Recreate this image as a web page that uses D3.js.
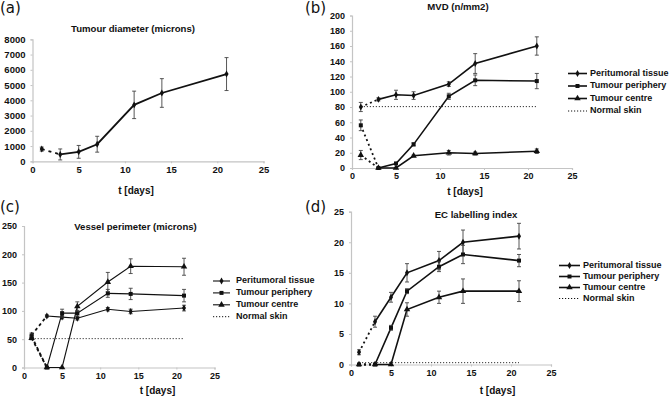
<!DOCTYPE html>
<html>
<head>
<meta charset="utf-8">
<script src="https://cdn.jsdelivr.net/npm/d3@7/dist/d3.min.js"></script>
<style>
  html, body { margin: 0; padding: 0; background: #fff; }
  svg { display: block; }
  text { font-family: "Liberation Sans", Arial, Helvetica, sans-serif; font-weight: bold; fill: #111; }
  .plabel { font-family: "DejaVu Sans", Verdana, sans-serif; font-weight: normal; }
</style>
</head>
<body>
<svg id="chart" width="671" height="400"></svg>
<script>
// ---------------- DATA ----------------
const days = [1, 3, 5, 7, 11, 14, 21];
const xTicks = [0, 5, 10, 15, 20, 25];
const seriesNames = ["Peritumoral tissue", "Tumour periphery", "Tumour centre", "Normal skin"];

// (a) Tumour diameter (microns)
const diameterTicks = [0, 1000, 2000, 3000, 4000, 5000, 6000, 7000, 8000];
const diameter    = [800, 450, 620, 1120, 3700, 4480, 5720];
const diameterErr = [130, 360, 420, 520, 900, 940, 1080];

// (b) MVD (n/mm2)
const mvdTicks = [0, 20, 40, 60, 80, 100, 120, 140, 160, 180, 200];
const mvdPeri       = [80, 90, 96, 95, 110, 137, 160];
const mvdPeriErr    = [6, 2, 6, 5, 3, 13, 12];
const mvdPeriph     = [56, 0, 6, 31, 94, 115, 114];
const mvdPeriphErr  = [7, 0, 1, 2, 4, 7, 10];
const mvdCentre     = [17, 0, 0, 16, 20, 19, 22];
const mvdCentreErr  = [6, 0, 0, 1, 3, 2, 3];
const mvdSkin = 80.5;

// (c) Vessel perimeter (microns)
const perimTicks = [0, 50, 100, 150, 200, 250];
const perimPeri       = [57, 91, 89, 87, 103, 99, 105];
const perimPeriErr    = [4, 2, 3, 3, 3, 4, 5];
const perimPeriph     = [55, 0, 96, 96, 131, 130, 127];
const perimPeriphErr  = [4, 0, 7, 5, 7, 10, 11];
const perimCentre     = [52, 0, 0, 108, 151, 179, 178];
const perimCentreErr  = [3, 0, 0, 8, 17, 13, 15];
const perimSkin = 51;

// (d) EC labelling index
const ecTicks = [0, 5, 10, 15, 20, 25];
const ecPeri       = [2, 7, 11, 15, 17, 20, 21];
const ecPeriErr    = [0.4, 0.9, 0.8, 1.5, 1.5, 2, 2.1];
const ecPeriph     = [0, 0, 6, 12, 16, 18, 17];
const ecPeriphErr  = [0, 0, 0.4, 0.4, 0.8, 1.5, 1];
const ecCentre     = [0, 0, 0, 9, 11, 12, 12];
const ecCentreErr  = [0, 0, 0, 1.1, 1, 2, 1.7];
const ecSkin = 0.3;

// ---------------- DRAWING ----------------
const svg = d3.select("#chart");
const symbols = [d3.symbolDiamond, d3.symbolSquare, d3.symbolTriangle];
const symSizes = [14, 16, 18];

function drawPanel(cfg) {
  const g = svg.append("g");
  const x = d3.scaleLinear().domain([0, 25]).range(cfg.xr);
  const y = d3.scaleLinear().domain([0, cfg.ymax]).range(cfg.yr);

  // axes
  const xa = g.append("g").attr("transform", `translate(0,${cfg.yr[0]})`)
    .call(d3.axisBottom(x).tickValues(xTicks).tickFormat(d3.format("d")).tickSize(2).tickPadding(cfg.xpad || 3));
  const ya = g.append("g").attr("transform", `translate(${cfg.xr[0]},0)`)
    .call(d3.axisLeft(y).tickValues(cfg.yTicks).tickFormat(d3.format("d")).tickSize(2).tickPadding(cfg.ypad || 5));
  [xa, ya].forEach(a => {
    a.select(".domain").attr("stroke", "#c4c4c4").attr("stroke-width", 1.2);
    a.selectAll(".tick line").attr("stroke", "#c4c4c4");
    a.selectAll(".tick text").style("font-size", cfg.tickFs + "px").attr("fill", "#111")
      .style("font-family", '"Liberation Sans", Arial, sans-serif').style("font-weight", "bold");
  });

  // titles
  g.append("text").attr("x", cfg.titleX).attr("y", cfg.titleY).attr("text-anchor", "middle")
    .attr("dominant-baseline", "middle").style("font-size", cfg.titleFs + "px").text(cfg.title);
  g.append("text").attr("x", cfg.xlabX).attr("y", cfg.xlabY).attr("text-anchor", "middle")
    .attr("dominant-baseline", "middle").style("font-size", "10px").text("t [days]");
  g.append("text").attr("class", "plabel").attr("x", cfg.plX).attr("y", cfg.plY)
    .style("font-size", "15px").text(cfg.pl);

  // normal skin
  if (cfg.skin !== undefined) {
    g.append("line").attr("x1", x(days[0])).attr("x2", x(days[days.length - 1]))
      .attr("y1", y(cfg.skin)).attr("y2", y(cfg.skin))
      .attr("stroke", "#333").attr("stroke-width", 1).attr("stroke-dasharray", "1.2,1.8");
  }

  const line = d3.line().x(d => x(d[0])).y(d => y(d[1]));
  cfg.series.forEach((s, si) => {
    const pts = days.map((d, i) => [d, s.v[i], s.e[i]]);
    // dashed first segment
    g.append("path").attr("d", line(pts.slice(0, 2))).attr("fill", "none")
      .attr("stroke", "#111").attr("stroke-width", cfg.dashW || 1.8)
      .attr("stroke-dasharray", cfg.dash || "3,3");
    g.append("path").attr("d", line(pts.slice(1))).attr("fill", "none")
      .attr("stroke", "#111").attr("stroke-width", cfg.lw);
    // error bars
    pts.forEach(p => {
      if (p[2] > 0) {
        const xx = x(p[0]), y1 = y(p[1] - p[2]), y2 = y(p[1] + p[2]);
        g.append("line").attr("x1", xx).attr("x2", xx).attr("y1", y1).attr("y2", y2)
          .attr("stroke", "#444").attr("stroke-width", 0.9);
        [y1, y2].forEach(yy => g.append("line").attr("x1", xx - 2).attr("x2", xx + 2)
          .attr("y1", yy).attr("y2", yy).attr("stroke", "#444").attr("stroke-width", 0.9));
      }
    });
    // markers
    const sym = d3.symbol().type(symbols[s.k]).size(symSizes[s.k]);
    pts.forEach(p => {
      g.append("path").attr("d", sym()).attr("transform", `translate(${x(p[0])},${y(p[1])})`)
        .attr("fill", "#111");
    });
  });

  // legend
  if (cfg.legend) {
    const L = cfg.legend;
    seriesNames.forEach((name, i) => {
      const yy = L.y0 + i * L.dy;
      const ln = g.append("line").attr("x1", L.x1).attr("x2", L.x2).attr("y1", yy).attr("y2", yy)
        .attr("stroke", "#111");
      if (i < 3) {
        ln.attr("stroke-width", cfg.lw);
        g.append("path").attr("d", d3.symbol().type(symbols[i]).size(symSizes[i])())
          .attr("transform", `translate(${(L.x1 + L.x2) / 2},${yy})`).attr("fill", "#111");
      } else {
        ln.attr("stroke-width", 1).attr("stroke-dasharray", "1.2,1.8");
      }
      g.append("text").attr("x", L.tx).attr("y", yy).attr("dominant-baseline", "middle")
        .style("font-size", L.fs + "px").text(name);
    });
  }
}

// (a)
drawPanel({
  xr: [32.5, 263.5], yr: [161.3, 39.3], ymax: 8000, yTicks: diameterTicks, tickFs: 9.5,
  title: "Tumour diameter (microns)", titleX: 133, titleY: 29, titleFs: 9.6,
  xlabX: 136, xlabY: 191.5, pl: "(a)", plX: 0, plY: 13, lw: 1.8, dash: "3,4",
  series: [{ v: diameter, e: diameterErr, k: 0 }]
});
// (b)
drawPanel({
  xr: [352, 572], yr: [168, 15.5], ymax: 200, yTicks: mvdTicks, tickFs: 9,
  title: "MVD (n/mm2)", titleX: 458, titleY: 7, titleFs: 9.6,
  xlabX: 465, xlabY: 192, pl: "(b)", plX: 305, plY: 13, lw: 1.6, dash: "2,3",
  skin: mvdSkin,
  series: [{ v: mvdPeri, e: mvdPeriErr, k: 0 }, { v: mvdPeriph, e: mvdPeriphErr, k: 1 },
           { v: mvdCentre, e: mvdCentreErr, k: 2 }],
  legend: { x1: 568, x2: 587, tx: 590, y0: 73.5, dy: 12.5, fs: 9 }
});
// (c)
drawPanel({
  xr: [24, 214.5], yr: [367.5, 226], ymax: 250, yTicks: perimTicks, tickFs: 9,
  title: "Vessel perimeter (microns)", titleX: 135.5, titleY: 227, titleFs: 9.6,
  xlabX: 157.5, xlabY: 391.5, pl: "(c)", plX: 0, plY: 212, lw: 1.1, dash: "3,3",
  skin: perimSkin,
  series: [{ v: perimPeri, e: perimPeriErr, k: 0 }, { v: perimPeriph, e: perimPeriphErr, k: 1 },
           { v: perimCentre, e: perimCentreErr, k: 2 }],
  legend: { x1: 213, x2: 230, tx: 236, y0: 281, dy: 11.9, fs: 9 }
});
// (d)
drawPanel({
  xr: [351, 551], yr: [364.5, 211.7], ymax: 25, yTicks: ecTicks, tickFs: 9,
  title: "EC labelling index", titleX: 476, titleY: 215, titleFs: 9.6,
  xlabX: 497.5, xlabY: 391.5, pl: "(d)", plX: 305, plY: 212, lw: 1.6, dash: "2,3",
  skin: ecSkin,
  series: [{ v: ecPeri, e: ecPeriErr, k: 0 }, { v: ecPeriph, e: ecPeriphErr, k: 1 },
           { v: ecCentre, e: ecCentreErr, k: 2 }],
  legend: { x1: 559, x2: 580, tx: 583, y0: 265.5, dy: 11, fs: 9 }
});
</script>
</body>
</html>
